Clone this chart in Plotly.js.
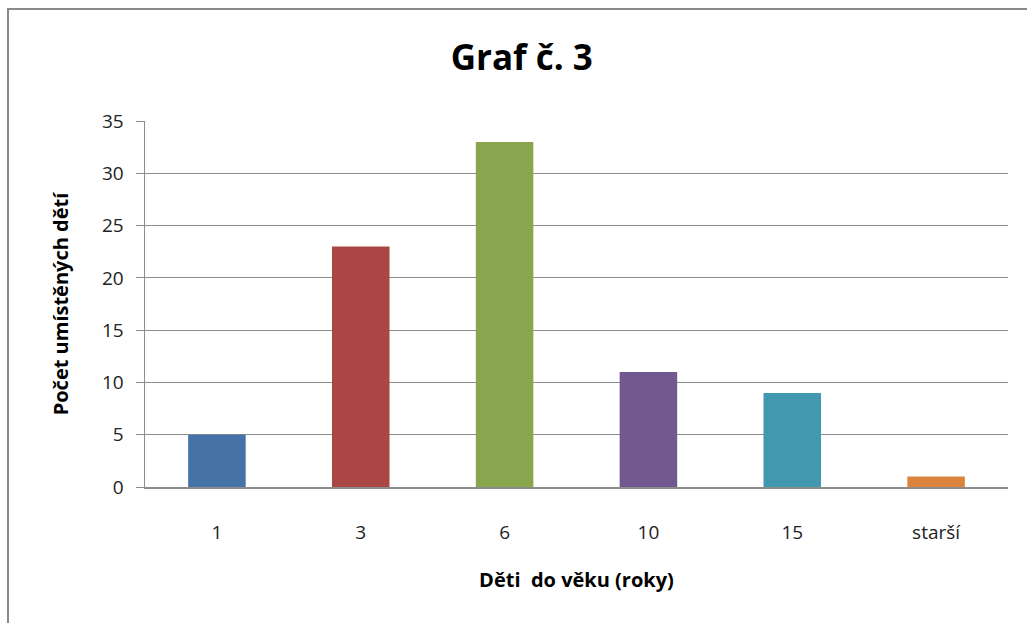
<!DOCTYPE html>
<html>
<head>
<meta charset="utf-8">
<script src="https://cdn.plot.ly/plotly-3.0.1.min.js"></script>
<style>
html,body{margin:0;padding:0;background:#fff;overflow:hidden;}
#frame{position:absolute;left:7px;top:8px;width:1040px;height:640px;border:2px solid #8a8a8a;box-sizing:border-box;pointer-events:none;z-index:5;}
#chart{position:absolute;left:0;top:0;width:1027px;height:623px;}
</style>
</head>
<body>
<div id="chart"></div>
<div id="frame"></div>
<script>
const categories = ["1", "3", "6", "10", "15", "starší"];
const counts = [5, 23, 33, 11, 9, 1];
const barColors = ["#4572A7", "#AA4643", "#89A54E", "#71588F", "#4198AF", "#DB843D"];
const yTicks = [0, 5, 10, 15, 20, 25, 30, 35];

const FONT = "Open Sans, Noto Sans, sans-serif";

const trace = {
  type: "bar",
  x: categories,
  y: counts,
  marker: {color: barColors, line: {width: 0}},
  hoverinfo: "x+y"
};

const layout = {
  width: 1027,
  height: 623,
  margin: {l: 145, r: 19, t: 121, b: 136},
  paper_bgcolor: "#ffffff",
  plot_bgcolor: "#ffffff",
  bargap: 0.6,
  showlegend: false,
  font: {family: FONT, color: "#222"},
  title: {
    text: "<b>Graf č. 3</b>",
    font: {family: FONT, size: 35, color: "#000"},
    x: 0.508, xref: "container", xanchor: "center",
    y: 1 - 58/623, yref: "container", yanchor: "middle"
  },
  xaxis: {
    type: "category",
    showgrid: false,
    showline: true,
    linecolor: "#8c8c8c",
    linewidth: 1.5,
    ticks: "outside",
    ticklen: 28,
    tickcolor: "rgba(0,0,0,0)",
    tickfont: {family: FONT, size: 19, color: "#222"},
    zeroline: false,
    title: {text: "<b>Děti  do věku (roky)</b>", font: {family: FONT, size: 20, color: "#000"}, standoff: 28}
  },
  yaxis: {
    range: [0, 35],
    tickvals: yTicks,
    showgrid: true,
    gridcolor: "#8c8c8c",
    gridwidth: 1,
    showline: true,
    linecolor: "#8c8c8c",
    linewidth: 1.5,
    ticks: "outside",
    ticklen: 8,
    tickcolor: "#8c8c8c",
    ticklabelstandoff: 8,
    tickfont: {family: FONT, size: 19, color: "#222"},
    zeroline: false,
    title: {text: "<b>Počet umístěných dětí</b>", font: {family: FONT, size: 20, color: "#000"}, standoff: 28}
  }
};

Plotly.newPlot("chart", [trace], layout, {displayModeBar: false, staticPlot: true});
</script>
</body>
</html>
